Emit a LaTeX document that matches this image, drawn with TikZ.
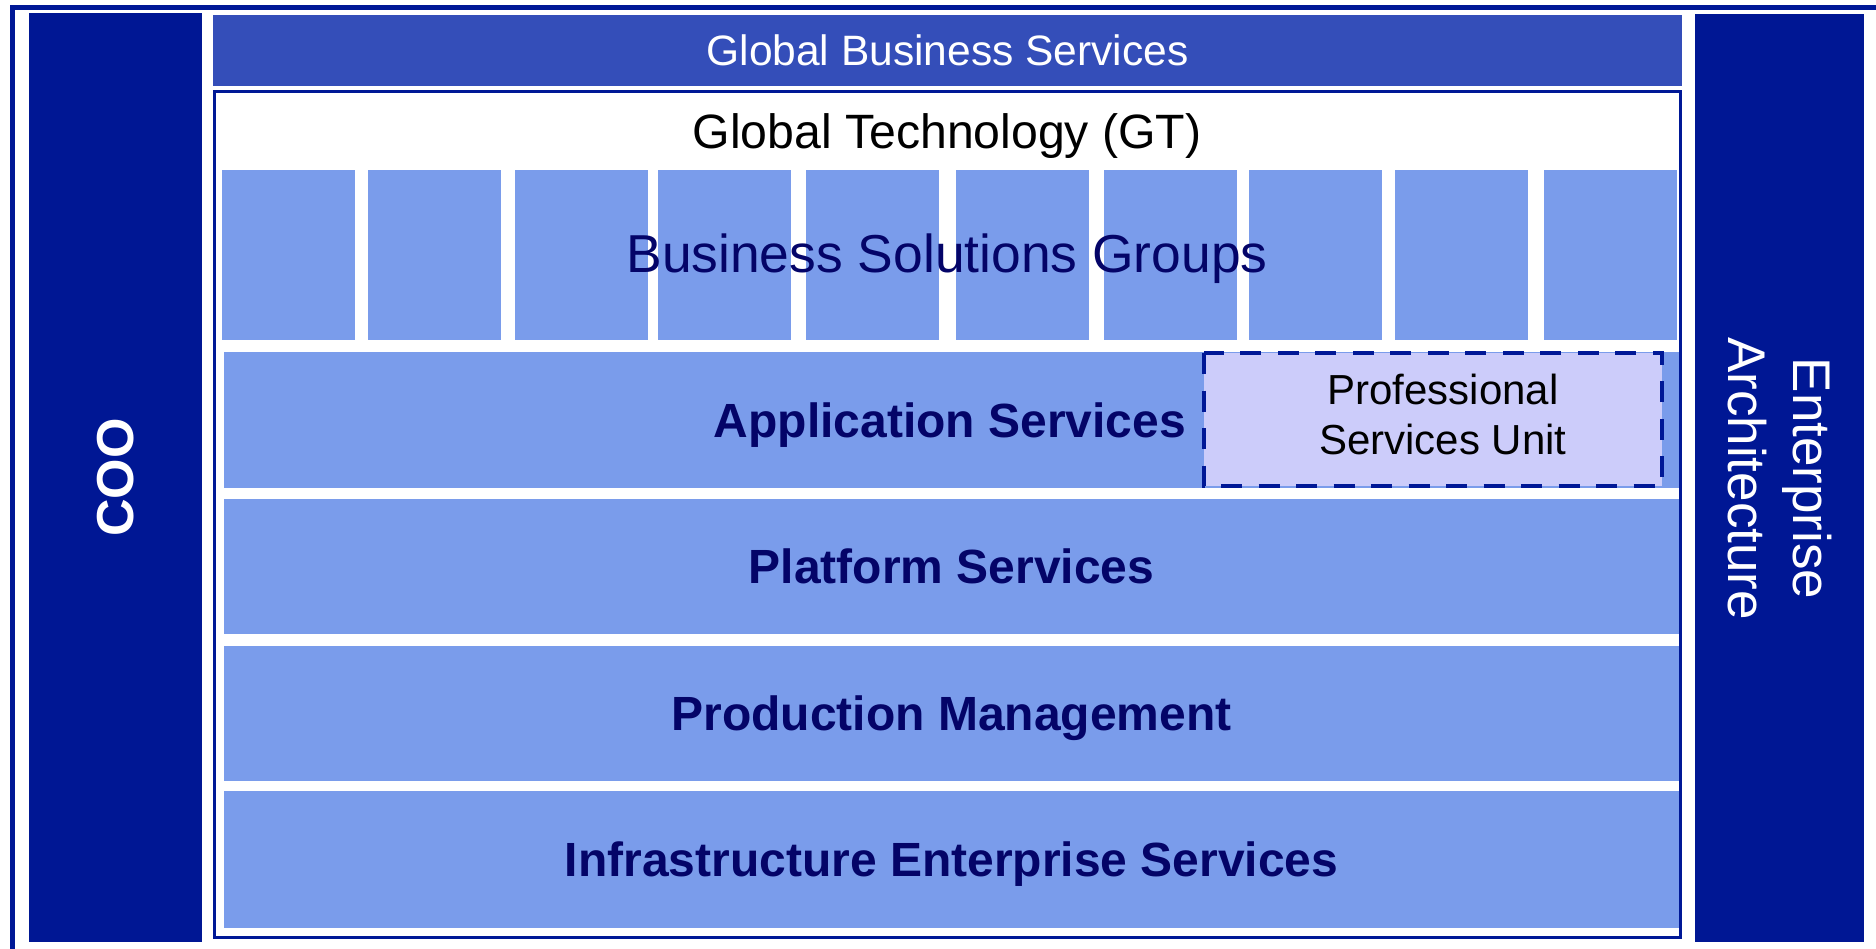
\documentclass[tikz,border=0pt]{standalone}
\usepackage{fontspec}
\setmainfont{Liberation Sans}
\definecolor{framecol}{RGB}{0,24,150}
\definecolor{coocol}{RGB}{0,23,148}
\definecolor{gbscol}{RGB}{52,78,185}
\definecolor{rowcol}{RGB}{122,156,235}
\definecolor{psucol}{RGB}{204,204,250}
\definecolor{navytext}{RGB}{4,4,104}
\tikzset{
  px/.style={x=1pt,y=-1pt},
  blk/.style={anchor=north west,inner sep=0pt,outer sep=0pt,draw=none},
  sidebox/.style={blk,fill=coocol},
  rowbox/.style={blk,fill=rowcol,text=navytext,font=\bfseries\fontsize{48}{57}\selectfont,text height=34.4pt,text depth=0pt},
  bsgbox/.style={blk,fill=rowcol,minimum width=133pt,minimum height=170pt},
  capc/.style={inner sep=0pt,text depth=0pt}
}
\begin{document}
\begin{tikzpicture}[px]
\useasboundingbox (0,0) rectangle (1876,948);
\begin{scope}
\clip (0,0) rectangle (1876,948);
\coordinate (fbl) at (12,960);
\coordinate (ftl) at (12,7.5);
\coordinate (ftr) at (1890,7.5);
\draw[framecol,line width=5pt] (fbl) -- (ftl) -- (ftr);
\end{scope}
% side boxes
\node[sidebox,minimum width=173pt,minimum height=929pt] (coo) at (29,13) {};
\node[capc,text height=37.2pt,rotate=90,text=white,font=\bfseries\fontsize{52}{60}\selectfont] (cootxt) at (114.5,477.5) {COO};
\node[sidebox,minimum width=169pt,minimum height=928pt] (ea) at (1695,14) {};
\node[inner sep=0pt,rotate=-90,align=center,text=white,font=\fontsize{53}{65}\selectfont] (eatxt) at (1779.5,478.5) {Enterprise\\Architecture};
% global business services
\node[blk,fill=gbscol,minimum width=1469pt,minimum height=71pt,text=white,font=\fontsize{42.5}{50}\selectfont,text height=30.4pt,text depth=0pt] (gbs) at (213,15) {Global Business Services};
% GT frame
\coordinate (gt1) at (214.5,91.5);
\coordinate (gt2) at (1680.5,937.5);
\draw[framecol,line width=3pt,fill=white] (gt1) rectangle (gt2);
\node[capc,text height=34.5pt,font=\fontsize{48.2}{55}\selectfont] (gttxt) at (947,131.4) {Global Technology (GT)};
% business solutions groups
\node[bsgbox] (b1) at (222,170) {};
\node[bsgbox] (b2) at (368,170) {};
\node[bsgbox] (b3) at (515,170) {};
\node[bsgbox] (b4) at (658,170) {};
\node[bsgbox] (b5) at (806,170) {};
\node[bsgbox] (b6) at (956,170) {};
\node[bsgbox] (b7) at (1104,170) {};
\node[bsgbox] (b8) at (1249,170) {};
\node[bsgbox] (b9) at (1395,170) {};
\node[bsgbox] (b10) at (1544,170) {};
\node[capc,text height=38.2pt,text=navytext,font=\fontsize{53.4}{60}\selectfont] (bsgtxt) at (947,253.7) {Business Solutions Groups};
% rows
\node[rowbox,minimum width=1455pt,minimum height=136pt] (app) at (224,352) {};
\node[capc,text height=34.4pt,text=navytext,font=\bfseries\fontsize{48}{57}\selectfont] (apptxt) at (950,420) {Application Services};
\node[rowbox,minimum width=1455pt,minimum height=135pt] (plat) at (224,499) {Platform Services};
\node[rowbox,minimum width=1455pt,minimum height=135pt] (prod) at (224,646) {Production Management};
\node[rowbox,minimum width=1455pt,minimum height=137pt] (infra) at (224,791) {Infrastructure Enterprise Services};
% professional services unit
\coordinate (psu1) at (1204,353);
\coordinate (psu2) at (1662,486);
\draw[framecol,line width=4.5pt,fill=psucol,dash pattern=on 21pt off 16.5pt] (psu1) rectangle (psu2);
\node[inner sep=0pt,align=center,font=\fontsize{42}{50}\selectfont] (psutxt) at (1443,414) {Professional\\Services Unit};
\end{tikzpicture}
\end{document}
